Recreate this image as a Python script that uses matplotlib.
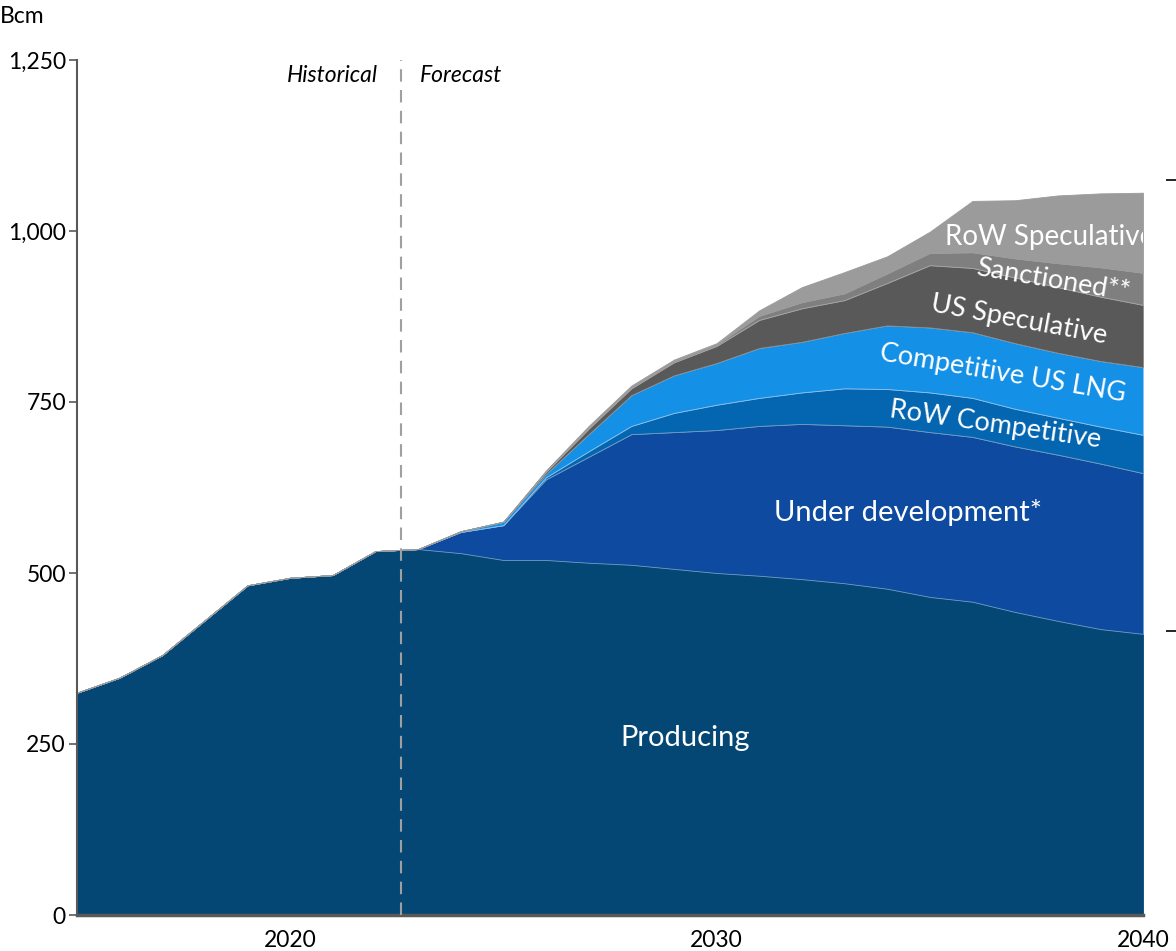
import numpy as np
import matplotlib.pyplot as plt
from matplotlib.ticker import FuncFormatter

plt.rcParams['font.family'] = ['Lato', 'DejaVu Sans']

# Data (Bcm)
years = np.arange(2015, 2041)
producing = [325, 347, 380, 431, 482, 493, 497, 532, 535,
             529, 519, 519, 515, 512, 506, 500, 496, 491, 485, 477, 465, 458, 443, 430, 418, 411]
under_dev = [0, 0, 0, 0, 0, 0, 0, 0, 0,
             31, 51, 118, 155, 191, 200, 209, 219, 227, 231, 237, 241, 241, 242, 243, 242, 235]
row_comp = [0, 0, 0, 0, 0, 0, 0, 0, 0,
            0, 0, 3, 8, 12, 28, 37, 41, 46, 54, 55, 58, 57, 55, 54, 54, 56]
us_lng = [0, 0, 0, 0, 0, 0, 0, 0, 0,
          1, 5, 5, 25, 45, 55, 61, 73, 74, 81, 93, 95, 96, 96, 95, 96, 99]
us_spec = [0, 0, 0, 0, 0, 0, 0, 0, 0,
           0, 0, 3, 8, 10, 19, 25, 41, 49, 48, 62, 91, 94, 96, 96, 94, 91]
sanctioned = [0, 0, 0, 0, 0, 0, 0, 0, 0,
              0, 0, 1, 2, 2, 2, 2, 6, 9, 10, 14, 18, 23, 28, 35, 43, 47]
row_spec = [0, 0, 0, 0, 0, 0, 0, 0, 0,
            0, 0, 1, 2, 2, 2, 2, 8, 22, 31, 25, 31, 75, 85, 99, 108, 117]

series = [producing, under_dev, row_comp, us_lng, us_spec, sanctioned, row_spec]
colors = ['#044774', '#0D4AA0', '#0466B0', '#1490E6', '#595959', '#7F7F7F', '#9B9B9B']
edges = ['#044774', '#6f9cc4', '#6f9cc4', '#8cc4f0', '#8a8a8a', '#a8a8a8', '#9B9B9B']

fig = plt.figure(figsize=(11.76, 9.51), dpi=100)
ax = fig.add_axes([77 / 1176, 36 / 951, (1143 - 77) / 1176, (915 - 60) / 951])

polys = ax.stackplot(years, *series, colors=colors, linewidth=0.6)
for p, e in zip(polys, edges):
    p.set_edgecolor(e)

ax.set_xlim(2015, 2040)
ax.set_ylim(0, 1250)
ax.set_yticks([0, 250, 500, 750, 1000, 1250])
ax.yaxis.set_major_formatter(FuncFormatter(lambda v, _: f'{int(v):,}'))
ax.set_xticks([2020, 2030, 2040])
ax.tick_params(axis='y', labelsize=16.5, length=6, width=1.2, color='#595959', pad=2)
ax.tick_params(axis='x', labelsize=16.5, length=0, pad=11)
for s in ['top', 'right']:
    ax.spines[s].set_visible(False)
ax.spines['left'].set_color('#595959')
ax.spines['left'].set_linewidth(1.5)
ax.spines['bottom'].set_color('#595959')
ax.spines['bottom'].set_linewidth(2.5)

# historical / forecast divider
split = 2022.6
ax.axvline(split, color='#A0A0A0', linestyle=(0, (6, 4)), linewidth=1.5, zorder=3)
ax.text(split - 0.55, 1228, 'Historical', ha='right', va='center', fontsize=16.5, style='italic')
ax.text(split + 0.45, 1228, 'Forecast', ha='left', va='center', fontsize=16.5, style='italic')

fig.text(0.0, 0.983, 'Bcm', fontsize=16.5, ha='left', va='center')

# area labels
lab = dict(color='white', fontsize=21, ha='center', va='center', rotation_mode='anchor', clip_on=True)
ax.text(2029.26, 259, 'Producing', **lab)
ax.text(2034.49, 589, 'Under development*', **lab)
lab['fontsize'] = 19.5
ax.text(2036.53, 716, 'RoW Competitive', rotation=-8.2, **lab)
ax.text(2036.7, 792, 'Competitive US LNG', rotation=-9.6, **lab)
ax.text(2037.1, 870, 'US Speculative', rotation=-10.5, **lab)
ax.text(2037.9, 928, 'Sanctioned**', rotation=-9.5, **lab)
ax.text(2035.36, 991, 'RoW Speculative', color='white', fontsize=20, ha='left', va='center', clip_on=True)

# secondary axis remnants on the right
ax2 = ax.twinx()
ax2.set_ylim(0, 1250)
ax2.spines['right'].set_position(('axes', 1.031))
for s in ['top', 'right', 'left', 'bottom']:
    ax2.spines[s].set_visible(False)
ax2.set_yticks([415, 1075])
ax2.set_yticklabels(['', ''])
ax2.tick_params(axis='y', direction='in', length=7, width=1.2, color='black')

fig.savefig('out.png', dpi=100)
